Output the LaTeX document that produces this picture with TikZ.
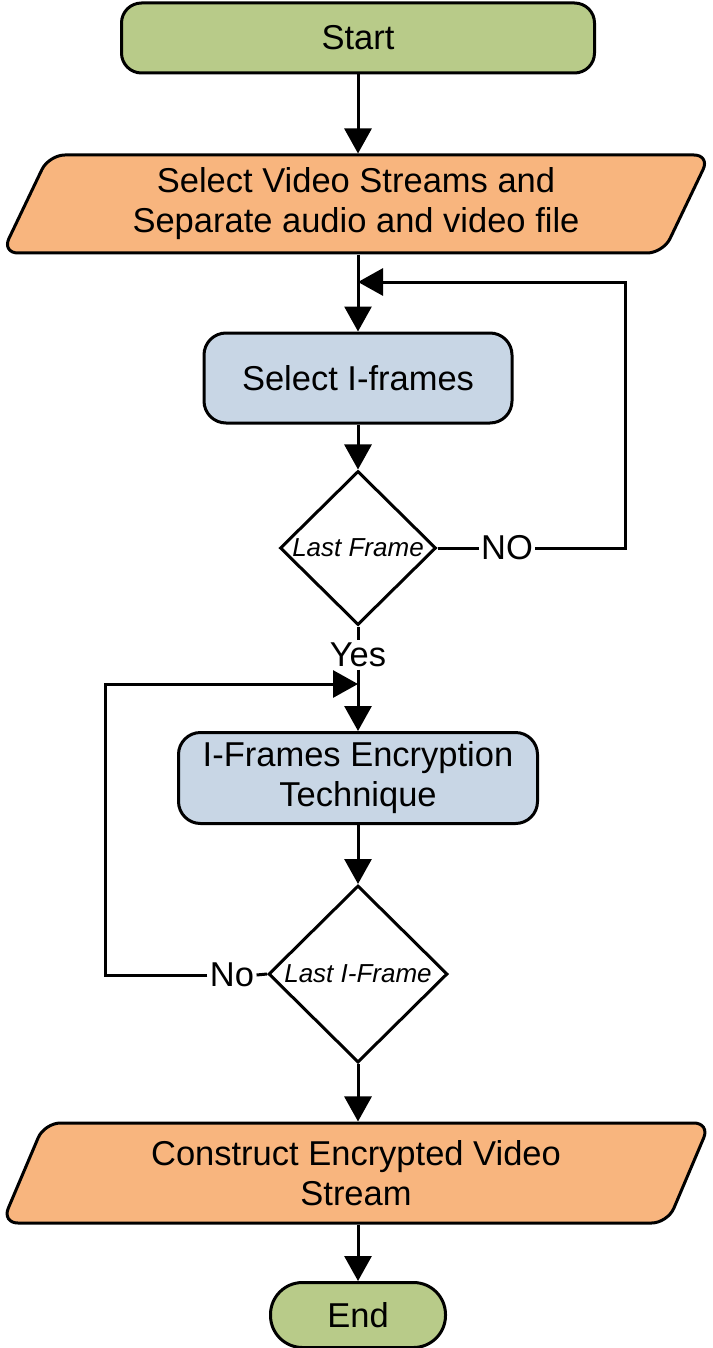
\documentclass[tikz,border=0pt]{standalone}
\usepackage{fontspec}
\setmainfont{Liberation Sans}
\usetikzlibrary{shapes.geometric,arrows.meta,positioning}
\definecolor{termgreen}{RGB}{184,203,137}
\definecolor{ioorange}{RGB}{248,181,126}
\definecolor{procblue}{RGB}{200,214,229}

\begin{document}
\begin{tikzpicture}[x=1pt, y=-1pt, line width=3pt,
    font=\fontsize{34.5}{40}\selectfont,
    arr/.style={-{Triangle[length=25pt,width=27pt]}},
    term/.style={draw, fill=termgreen, rounded corners=20pt},
    inout/.style={trapezium, trapezium left angle=57, trapezium right angle=123,
        trapezium stretches body=true, draw, fill=ioorange, rounded corners=16pt,
        align=center, minimum width=708pt, minimum height=98pt, inner sep=0pt},
    proc/.style={draw, fill=procblue, rounded corners=22pt, align=center},
    test/.style={diamond, draw, fill=white, aspect=1, inner sep=0pt,
        font=\itshape\fontsize{26}{30}\selectfont},
    lbl/.style={inner sep=1pt}]

    \useasboundingbox (0,0) rectangle (712,1348);

    % Nodes
    \node[term, minimum width=473pt, minimum height=70pt] (start) at (358,38) {Start};
    \node[inout] (select) at (356,204) {Select Video Streams and\\Separate audio and video file};
    \node[proc, minimum width=308pt, minimum height=90pt] (iframe) at (358,378) {Select I-frames};
    \node[test, minimum width=156pt, minimum height=154pt] (lastf) at (358,548) {Last Frame};
    \node[proc, minimum width=359pt, minimum height=91pt] (encrypt) at (358,778) {I-Frames Encryption\\Technique};
    \node[test, minimum width=179pt, minimum height=177pt] (lasti) at (358,974) {Last I-Frame};
    \node[inout, minimum height=100pt] (construct) at (356,1173) {Construct Encrypted Video\\Stream};
    \node[term, rounded corners=32pt, minimum width=175pt, minimum height=65pt] (end) at (358,1315) {End};

    % Labels
    \node[lbl] (no1) at (507,548) {NO};
    \node[lbl] (yes) at (358,655) {Yes};
    \node[lbl] (no2) at (232,975) {No};

    % Loop corners
    \coordinate (r1) at (625,282);
    \coordinate (j1) at (358,282);
    \coordinate (l2) at (105,684);
    \coordinate (j2) at (358,684);

    % Connect
    \draw[arr] (start) -- (start |- select.north);
    \draw[arr] (start |- select.south) -- (iframe);
    \draw[arr] (iframe) -- (lastf);
    \draw (lastf.east) -- (no1.west);
    \draw[arr] (no1.east) -| (r1) -- (j1);
    \draw (lastf.south) -- (yes.north);
    \draw[arr] (yes.south) -- (encrypt.north);
    \draw[arr] (encrypt) -- (lasti);
    \draw (lasti.west) -- (no2.east);
    \draw[arr] (no2.west) -| (l2) -- (j2);
    \draw[arr] (lasti) -- (lasti |- construct.north);
    \draw[arr] (lasti |- construct.south) -- (end);

\end{tikzpicture}
\end{document}
